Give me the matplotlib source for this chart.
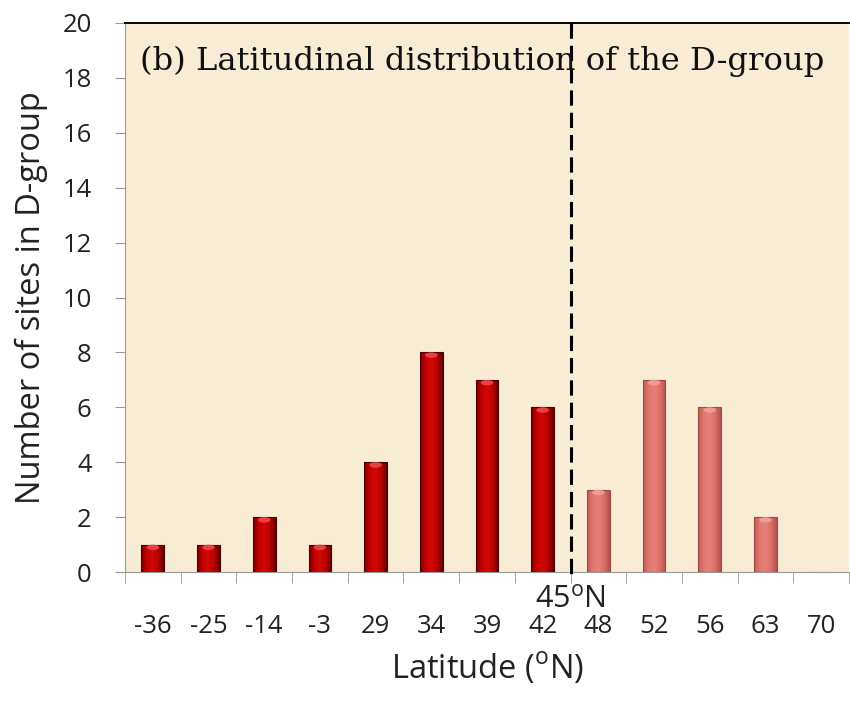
import numpy as np
import matplotlib
matplotlib.use("Agg")
import matplotlib.pyplot as plt
from matplotlib.colors import LinearSegmentedColormap

# data
latitudes = ["-36", "-25", "-14", "-3", "29", "34", "39", "42",
             "48", "52", "56", "63", "70"]
south_of_45 = [1, 1, 2, 1, 4, 8, 7, 6]
north_of_45 = [3, 7, 6, 2, 0]

plt.rcParams["font.family"] = ["Open Sans", "DejaVu Sans"]
plt.rcParams["mathtext.fontset"] = "custom"
plt.rcParams["mathtext.rm"] = "Open Sans"

fig = plt.figure(figsize=(8.5, 7.02), dpi=100)
ax = fig.add_axes([125 / 850, 130 / 702, 724 / 850, 549 / 702])
ax.set_facecolor("#F9ECD5")

x = np.arange(len(latitudes))
n_south = len(south_of_45)

dark_cmap = LinearSegmentedColormap.from_list(
    "dark", ["#7A0000", "#C40000", "#D20808", "#B80000", "#600000"])
light_cmap = LinearSegmentedColormap.from_list(
    "light", ["#BE5C54", "#E27870", "#E88078", "#DC6E66", "#B2524B"])

def shaded_bars(xs, vals, cmap, edge, cap):
    bars = ax.bar(xs, vals, width=0.41, color="none", edgecolor=edge,
                  linewidth=0.8, zorder=3)
    grad = np.linspace(0, 1, 64).reshape(1, -1)
    for b, v in zip(bars, vals):
        if v <= 0:
            continue
        x0 = b.get_x()
        w = b.get_width()
        im = ax.imshow(grad, cmap=cmap, aspect="auto", zorder=2,
                       extent=[x0, x0 + w, 0, v], interpolation="bicubic")
        im.set_clip_path(b)
        # little highlight at the top of the cylinder
        ax.add_patch(matplotlib.patches.Ellipse(
            (x0 + w / 2, v - 0.1), w * 0.55, 0.2, color=cap,
            alpha=0.8, zorder=4, lw=0))

shaded_bars(x[:n_south], south_of_45, dark_cmap, "#4A0000", "#F05050")
shaded_bars(x[n_south:], north_of_45, light_cmap, "#A04840", "#F4A49C")

ax.set_xlim(-0.5, len(latitudes) - 0.5)
ax.set_ylim(0, 20)
ax.set_yticks(np.arange(0, 21, 2))
ax.set_xticks(x)
ax.set_xticklabels(latitudes)
ax.set_xticks(np.arange(-0.5, len(latitudes) - 0.4, 1), minor=True)
ax.tick_params(axis="x", which="major", length=0, pad=30, labelsize=18.5,
               colors="#222222")
ax.tick_params(axis="x", which="minor", length=8, color="#999999",
               direction="out")
ax.tick_params(axis="y", length=7, color="#999999", labelsize=18.5,
               colors="#222222", pad=17)

for s in ["left", "bottom"]:
    ax.spines[s].set_color("#999999")
ax.spines["right"].set_visible(False)
ax.spines["top"].set_color("black")
ax.spines["top"].set_linewidth(1.4)

# 45N divider
ax.plot([n_south - 0.5, n_south - 0.5], [20, -0.15], ls=(0, (5, 2.3)),
        color="black", lw=2.2, clip_on=False, zorder=5)
ax.text(n_south - 0.5, -1.0, "45$^{\\rm o}$N", ha="center", va="center",
        fontsize=22, color="#222222")

ax.text(-0.23, 18.6, "(b) Latitudinal distribution of the D-group",
        family=["DejaVu Serif"], fontsize=23.2, va="center", ha="left",
        color="#111111", zorder=6)

ax.set_ylabel("Number of sites in D-group", fontsize=23.5, color="#222222",
              labelpad=10)
ax.set_xlabel("Latitude ($^{\\rm o}$N)", fontsize=23.5, color="#222222",
              labelpad=9)

fig.savefig("out.png", dpi=100)
